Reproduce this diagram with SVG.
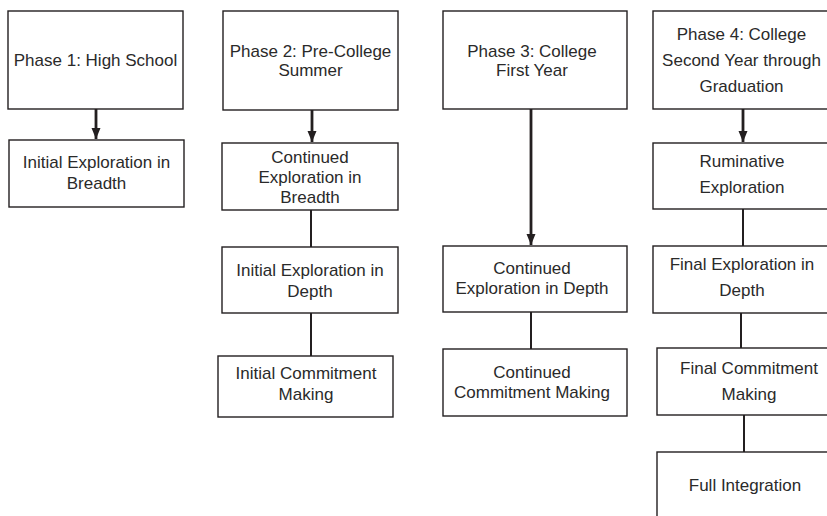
<svg xmlns="http://www.w3.org/2000/svg" width="827" height="516" viewBox="0 0 827 516">
<style>
  .box { fill: #ffffff; stroke: #231f20; stroke-width: 1.4; }
  .lbl { font-family: "Liberation Sans", Arial, sans-serif; font-size: 17px; fill: #2a2a2a; text-anchor: middle; }
  .conn { stroke: #231f20; stroke-width: 2; fill: none; }
  .arr { stroke: #231f20; stroke-width: 2.8; fill: none; }
</style>
<defs>
  <marker id="ah" markerUnits="userSpaceOnUse" markerWidth="12" markerHeight="12" viewBox="0 0 12 12" refX="11" refY="6" orient="auto">
    <path d="M0,1.5 L11,6 L0,10.5 Z" fill="#231f20"/>
  </marker>
</defs>
<rect width="827" height="516" fill="#ffffff"/>

<g id="connectors">
  <line class="arr" x1="96" y1="109" x2="96" y2="139" marker-end="url(#ah)"/>
  <line class="arr" x1="312" y1="110" x2="312" y2="142" marker-end="url(#ah)"/>
  <line class="arr" x1="531" y1="109" x2="531" y2="245" marker-end="url(#ah)"/>
  <line class="arr" x1="743" y1="109" x2="743" y2="142" marker-end="url(#ah)"/>
  <line class="conn" x1="311" y1="210" x2="311" y2="247"/>
  <line class="conn" x1="311" y1="313" x2="311" y2="356"/>
  <line class="conn" x1="531" y1="312" x2="531" y2="349"/>
  <line class="conn" x1="743" y1="209" x2="743" y2="246"/>
  <line class="conn" x1="741" y1="313" x2="741" y2="348"/>
  <line class="conn" x1="744" y1="415" x2="744" y2="452"/>
</g>

<g id="phase1">
  <rect class="box" x="8" y="11" width="175" height="98"/>
  <text class="lbl" x="95.5" y="66">Phase 1: High School</text>
</g>
<g id="p1-breadth">
  <rect class="box" x="9" y="140" width="175" height="67"/>
  <text class="lbl" x="96.5" y="168">Initial Exploration in</text>
  <text class="lbl" x="96.5" y="189">Breadth</text>
</g>

<g id="phase2">
  <rect class="box" x="223" y="11" width="175" height="99"/>
  <text class="lbl" x="310.5" y="57">Phase 2: Pre-College</text>
  <text class="lbl" x="310.5" y="76">Summer</text>
</g>
<g id="p2-breadth">
  <rect class="box" x="222" y="143" width="176" height="67"/>
  <text class="lbl" x="310" y="163">Continued</text>
  <text class="lbl" x="310" y="183">Exploration in</text>
  <text class="lbl" x="310" y="203">Breadth</text>
</g>
<g id="p2-depth">
  <rect class="box" x="222" y="247" width="176" height="66"/>
  <text class="lbl" x="310" y="276">Initial Exploration in</text>
  <text class="lbl" x="310" y="297">Depth</text>
</g>
<g id="p2-commit">
  <rect class="box" x="218" y="356" width="175" height="61"/>
  <text class="lbl" x="306" y="379">Initial Commitment</text>
  <text class="lbl" x="306" y="400">Making</text>
</g>

<g id="phase3">
  <rect class="box" x="443" y="11" width="184" height="98"/>
  <text class="lbl" x="532" y="57">Phase 3: College</text>
  <text class="lbl" x="532" y="76">First Year</text>
</g>
<g id="p3-depth">
  <rect class="box" x="443" y="246" width="184" height="66"/>
  <text class="lbl" x="532" y="274">Continued</text>
  <text class="lbl" x="532" y="294">Exploration in Depth</text>
</g>
<g id="p3-commit">
  <rect class="box" x="443" y="349" width="184" height="67"/>
  <text class="lbl" x="532" y="378">Continued</text>
  <text class="lbl" x="532" y="398">Commitment Making</text>
</g>

<g id="phase4">
  <rect class="box" x="653" y="11" width="190" height="98"/>
  <text class="lbl" x="741.5" y="40">Phase 4: College</text>
  <text class="lbl" x="741.5" y="66">Second Year through</text>
  <text class="lbl" x="741.5" y="92">Graduation</text>
</g>
<g id="p4-ruminative">
  <rect class="box" x="653" y="143" width="190" height="66"/>
  <text class="lbl" x="742" y="167">Ruminative</text>
  <text class="lbl" x="742" y="193">Exploration</text>
</g>
<g id="p4-depth">
  <rect class="box" x="653" y="246" width="190" height="67"/>
  <text class="lbl" x="742" y="270">Final Exploration in</text>
  <text class="lbl" x="742" y="296">Depth</text>
</g>
<g id="p4-commit">
  <rect class="box" x="657" y="348" width="190" height="67"/>
  <text class="lbl" x="749" y="374">Final Commitment</text>
  <text class="lbl" x="749" y="400">Making</text>
</g>
<g id="p4-integration">
  <rect class="box" x="657" y="452" width="190" height="80"/>
  <text class="lbl" x="745" y="491">Full Integration</text>
</g>
</svg>
